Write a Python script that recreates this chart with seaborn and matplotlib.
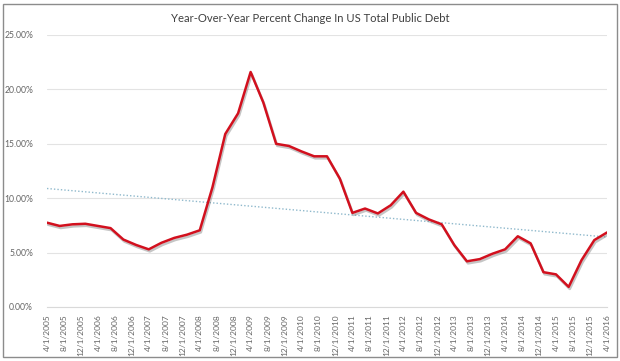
import numpy as np
import pandas as pd
import matplotlib
matplotlib.use('Agg')
import matplotlib.pyplot as plt
import matplotlib.dates as mdates
import matplotlib.patheffects as pe
from matplotlib.patches import Rectangle
import seaborn as sns

# Quarterly YoY % change in US total public debt
dates = pd.date_range('2005-04-01', '2016-04-01', freq='QS-JAN')
yoy_pct = [7.75, 7.45, 7.6, 7.65, 7.45, 7.25, 6.2, 5.7, 5.3, 5.9, 6.35, 6.65, 7.05,
           11.0, 15.9, 17.8, 21.6, 18.8, 15.0, 14.8, 14.3, 13.85, 13.85, 11.8,
           8.65, 9.05, 8.6, 9.35, 10.6, 8.65, 8.05, 7.6, 5.7, 4.2, 4.4, 4.9,
           5.3, 6.5, 5.85, 3.2, 3.0, 1.85, 4.3, 6.15, 6.85]
tick_dates = pd.date_range('2005-04-01', '2016-04-01', freq='4MS')
tick_labels = [f'{d.month}/{d.day}/{d.year}' for d in tick_dates]
y_ticks = [0, 5, 10, 15, 20, 25]

df = pd.DataFrame({'date': dates, 'pct': yoy_pct})

sns.set_style('white')
plt.rcParams['font.family'] = ['Lato', 'DejaVu Sans']

fig = plt.figure(figsize=(6.2, 3.61), dpi=100)
ax = fig.add_axes([47 / 620, 1 - 307 / 361, 560 / 620, 272 / 361])

# linear trendline (like Excel)
xnum = mdates.date2num(df['date'])
slope, icpt = np.polyfit(xnum, df['pct'], 1)
df['trend'] = slope * xnum + icpt
sns.lineplot(data=df, x='date', y='trend', ax=ax, color='#8FB9CC', lw=1.0,
             linestyle=(0, (1, 1.5)))

sns.lineplot(data=df, x='date', y='pct', ax=ax, color='#D2101E', lw=1.8,
             path_effects=[pe.SimpleLineShadow(offset=(0.8, -1.5), shadow_color='#808080', alpha=0.45),
                           pe.Normal()])

ax.set_xlim(dates[0], dates[-1])
ax.set_ylim(0, 25)
ax.set_yticks(y_ticks)
ax.set_yticklabels([f'{v:.2f}%' for v in y_ticks])
ax.set_xticks(tick_dates)
ax.set_xticklabels(tick_labels, rotation=90)
ax.tick_params(axis='x', colors='#666666', labelsize=6.0, length=3, width=0.6, pad=2)
ax.tick_params(axis='y', colors='#666666', labelsize=6.2, length=0, pad=10)
for lab in ax.get_xticklabels() + ax.get_yticklabels():
    lab.set_color('#666666')
ax.tick_params(axis='x', color='#D9D9D9')
ax.grid(axis='y', color='#E3E3E3', lw=0.8)
ax.set_axisbelow(True)
for s in ['top', 'right', 'left']:
    ax.spines[s].set_visible(False)
ax.spines['bottom'].set_color('#D9D9D9')
ax.set_xlabel('')
ax.set_ylabel('')

fig.text(0.5, 1 - 18 / 361, 'Year-Over-Year Percent Change In US Total Public Debt',
         ha='center', va='center', fontsize=8.1, color='#404040')

fig.patches.append(Rectangle((3 / 620, 4 / 361), 614 / 620, 353 / 361, transform=fig.transFigure,
                             fill=False, edgecolor='#8C8C8C', lw=1.0))

fig.savefig('out.png', dpi=100)
